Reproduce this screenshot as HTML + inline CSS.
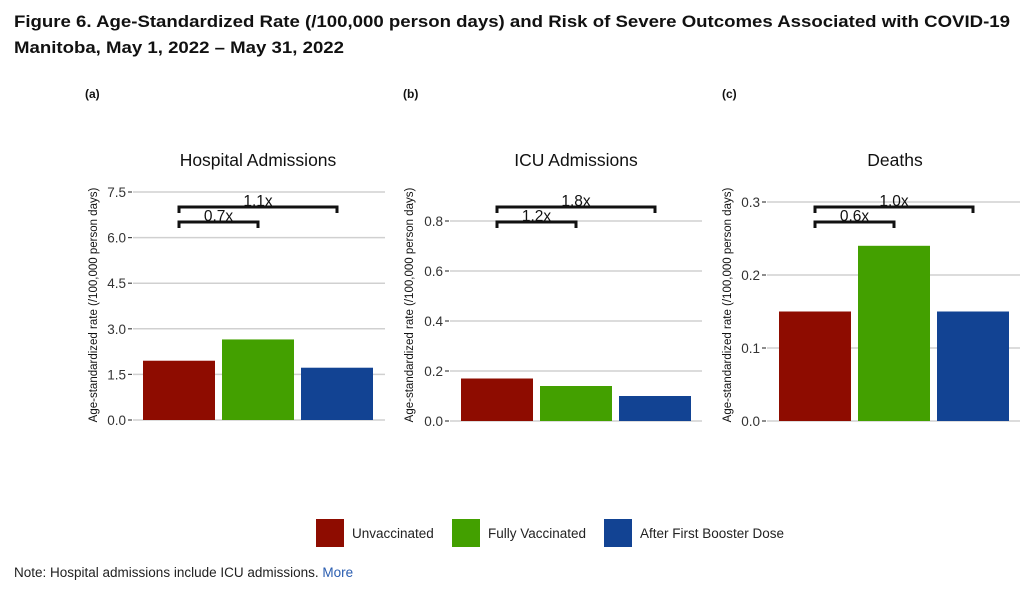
<!DOCTYPE html>
<html><head><meta charset="utf-8"><style>
body{margin:0;background:#fff;}
svg{display:block;font-family:"Liberation Sans",Arial,sans-serif;}
</style></head><body>
<svg id="c" width="1024" height="591" viewBox="0 0 1024 591">
<text x="14" y="27" font-size="17" font-weight="bold" fill="#111" font-family="Liberation Sans, sans-serif" textLength="996" lengthAdjust="spacingAndGlyphs">Figure 6. Age-Standardized Rate (/100,000 person days) and Risk of Severe Outcomes Associated with COVID-19</text>
<text x="14" y="53" font-size="17" font-weight="bold" fill="#111" font-family="Liberation Sans, sans-serif" textLength="330" lengthAdjust="spacingAndGlyphs">Manitoba, May 1, 2022 – May 31, 2022</text>
<text x="85" y="98" font-size="12" font-weight="bold" fill="#111">(a)</text>
<text x="403" y="98" font-size="12" font-weight="bold" fill="#111">(b)</text>
<text x="722" y="98" font-size="12" font-weight="bold" fill="#111">(c)</text>
<g id="panels"></g>
<g>
<rect x="316" y="519" width="28" height="28" fill="#8e0c00"/>
<text x="352" y="538" font-size="13.5" fill="#222">Unvaccinated</text>
<rect x="452" y="519" width="28" height="28" fill="#43a000"/>
<text x="488" y="538" font-size="13.5" fill="#222">Fully Vaccinated</text>
<rect x="604" y="519" width="28" height="28" fill="#124393"/>
<text x="640" y="538" font-size="13.5" fill="#222">After First Booster Dose</text>
</g>
<text x="14" y="577" font-size="13.5" fill="#222">Note: Hospital admissions include ICU admissions. <tspan fill="#2a5db0">More</tspan></text>
</svg>
<script>
const titles = ["Hospital Admissions", "ICU Admissions", "Deaths"];
const categories = ["Unvaccinated", "Fully Vaccinated", "After First Booster Dose"];
const hospValues = [1.95, 2.65, 1.72];
const icuValues = [0.17, 0.14, 0.10];
const deathValues = [0.15, 0.24, 0.15];
const hospTicks = ["0.0", "1.5", "3.0", "4.5", "6.0", "7.5"];
const icuTicks = ["0.0", "0.2", "0.4", "0.6", "0.8"];
const deathTicks = ["0.0", "0.1", "0.2", "0.3"];
const hospRatios = ["0.7x", "1.1x"];
const icuRatios = ["1.2x", "1.8x"];
const deathRatios = ["0.6x", "1.0x"];

const colors = ["#8e0c00", "#43a000", "#124393"];
const NS = "http://www.w3.org/2000/svg";
const root = document.getElementById("panels");
function mk(tag, attrs, parent, txt){
  const e = document.createElementNS(NS, tag);
  for (const k in attrs) e.setAttribute(k, attrs[k]);
  if (txt !== undefined) e.textContent = txt;
  parent.appendChild(e);
  return e;
}
const layouts = [
  {x0:133, x1:385, barX:143, y0:420, yTopPx:192, title:"hospital", titleX:258, ytX:97},
  {x0:450, x1:702, barX:461, y0:421, yTopPx:221, title:"icu", titleX:576, ytX:413},
  {x0:767, x1:1020, barX:779, y0:421, yTopPx:202, title:"deaths", titleX:895, ytX:731}
];
const valueSets = [hospValues, icuValues, deathValues];
const tickSets = [hospTicks, icuTicks, deathTicks];
const ratioSets = [hospRatios, icuRatios, deathRatios];

layouts.forEach((L, p) => {
  const g = mk("g", {}, root);
  
  
  const ticks = tickSets[p];
  const tmax = parseFloat(ticks[ticks.length - 1]);
  const y = v => L.y0 - (v / tmax) * (L.y0 - L.yTopPx);
  const t = mk("text", {x:L.titleX, y:166, "font-size":17.5, "text-anchor":"middle", fill:"#111"}, g, titles[p]);
  
  
  ticks.forEach(tk => {
    const v = parseFloat(tk);
    const ln = mk("line", {x1:L.x0, x2:L.x1, y1:y(v), y2:y(v), stroke:"#d0d0d0", "stroke-width":1.5}, g);
    
    
    mk("line", {x1:L.x0 - 5, x2:L.x0 - 1, y1:y(v), y2:y(v), stroke:"#444", "stroke-width":1.2}, g);
    const tl = mk("text", {x:L.x0 - 7, y:y(v) + 5, "font-size":13.5, "text-anchor":"end", fill:"#333"}, g, tk);
    
    
  });
  const yt = mk("text", {x:0, y:0, "font-size":11.5, "text-anchor":"middle", fill:"#111", transform:"translate(" + L.ytX + ",305) rotate(-90)"}, g, "Age-standardized rate (/100,000 person days)");
  
  
  const bw = 72, step = 79;
  const centers = [];
  valueSets[p].forEach((v, i) => {
    const bx = L.barX + i * step;
    centers.push(bx + bw / 2);
    const r = mk("rect", {x:bx, y:y(v), width:bw, height:L.y0 - y(v), fill:colors[i]}, g);
    
    
  });
  const ratios = ratioSets[p];
  const levels = [222, 207];
  ratios.forEach((rt, k) => {
    const ly = levels[k];
    const xa = centers[0], xb = centers[k + 1];
    const br = mk("path", {d:"M" + xa + "," + (ly + 6) + " V" + ly + " H" + xb + " V" + (ly + 6), fill:"none", stroke:"#111", "stroke-width":3}, g);
    
    
    const lt = mk("text", {x:(xa + xb) / 2, y:ly - 1, "font-size":15.5, "text-anchor":"middle", fill:"#111"}, g, rt);
    
    
  });
});
</script>
</body></html>
